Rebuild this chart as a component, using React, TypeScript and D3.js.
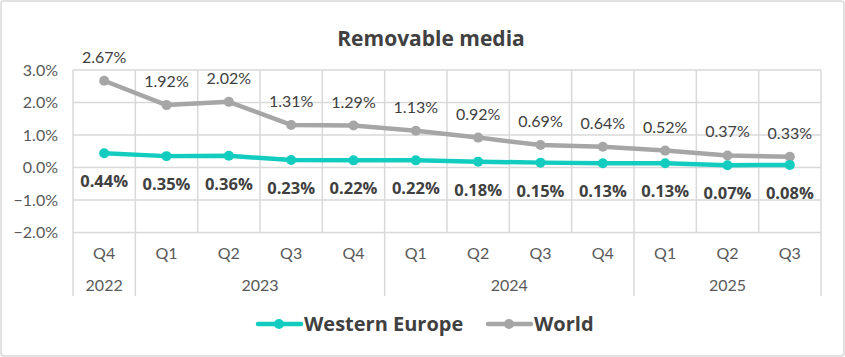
import React from "react";
import * as d3 from "d3";

const quarters = ["Q4", "Q1", "Q2", "Q3", "Q4", "Q1", "Q2", "Q3", "Q4", "Q1", "Q2", "Q3"];
const yearLabels = ["2022", "2023", "2024", "2025"];
const yearCounts = [1, 4, 4, 3];
const westernEurope = [0.44, 0.35, 0.36, 0.23, 0.22, 0.22, 0.18, 0.15, 0.13, 0.13, 0.07, 0.08];
const world = [2.67, 1.92, 2.02, 1.31, 1.29, 1.13, 0.92, 0.69, 0.64, 0.52, 0.37, 0.33];
const yTicks = [-2, -1, 0, 1, 2, 3];
const seriesNames = ["Western Europe", "World"];

const W = 845;
const H = 357;
const TEAL = "#12CDBF";
const GRAY = "#A6A6A6";
const TEXT = "#404040";
const AXIS = "#595959";
const GRID = "#D9D9D9";
const FONT = "Lato, 'Open Sans', sans-serif";
const BOLD = "'Open Sans', 'DejaVu Sans', sans-serif";

export default function App() {
  const left = 73;
  const right = 821;
  const top = 70;
  const bottom = 232.5;
  const idx = quarters.map((_, i) => i);
  const x = d3.scaleBand<number>().domain(idx).range([left, right]);
  const bw = x.bandwidth();
  const cx = (i: number) => (x(i) as number) + bw / 2;
  const y = d3.scaleLinear().domain([-2, 3]).range([bottom, top]);
  const line = d3
    .line<number>()
    .x((_, i) => cx(i))
    .y((d) => y(d));

  const bounds: number[] = [0];
  yearCounts.forEach((c) => bounds.push(bounds[bounds.length - 1] + c));

  const pct1 = (v: number) => d3.format(".1f")(v) + "%";
  const pct2 = (v: number) => d3.format(".2f")(v) + "%";

  return (
    <div style={{ position: "absolute", left: 0, top: 0 }}>
      <svg width={W} height={H} style={{ display: "block", fontFamily: FONT }}>
        <rect x={0} y={0} width={W} height={H} fill="#fff" />
        <rect x={1} y={1} width={W - 2} height={H - 2} rx={3} fill="#fff" stroke={GRID} strokeWidth={1.5} />
        <text x={431} y={46} textAnchor="middle" fontSize={21} fontWeight={700} fill={TEXT} fontFamily={BOLD}>
          Removable media
        </text>
        {yTicks.map((t) => (
          <g key={t}>
            <line x1={left} x2={right} y1={y(t)} y2={y(t)} stroke={GRID} strokeWidth={1.5} />
            <text x={58} y={y(t)} dy="0.35em" textAnchor="end" fontSize={16} fill={AXIS}>
              {pct1(t)}
            </text>
          </g>
        ))}
        {d3.range(quarters.length + 1).map((i) => {
          const xx = i < quarters.length ? (x(i) as number) : right;
          const isBound = bounds.includes(i);
          return (
            <line key={i} x1={xx} x2={xx} y1={top} y2={isBound ? 296 : bottom} stroke={GRID} strokeWidth={1.5} />
          );
        })}
        {quarters.map((q, i) => (
          <text key={i} x={cx(i)} y={253} dy="0.35em" textAnchor="middle" fontSize={16} fill={AXIS}>
            {q}
          </text>
        ))}
        {yearLabels.map((yl, k) => {
          const x0 = x(bounds[k]) as number;
          const x1 = bounds[k + 1] < quarters.length ? (x(bounds[k + 1]) as number) : right;
          return (
            <text key={yl} x={(x0 + x1) / 2} y={285} dy="0.35em" textAnchor="middle" fontSize={16} fill={AXIS}>
              {yl}
            </text>
          );
        })}
        <path d={line(world) || ""} fill="none" stroke={GRAY} strokeWidth={4.5} strokeLinejoin="round" />
        <path d={line(westernEurope) || ""} fill="none" stroke={TEAL} strokeWidth={4.5} strokeLinejoin="round" />
        {world.map((v, i) => (
          <circle key={"w" + i} cx={cx(i)} cy={y(v)} r={5} fill={GRAY} />
        ))}
        {westernEurope.map((v, i) => (
          <circle key={"e" + i} cx={cx(i)} cy={y(v)} r={5} fill={TEAL} />
        ))}
        {world.map((v, i) => (
          <text key={"wl" + i} x={cx(i)} y={y(v) - 18} textAnchor="middle" fontSize={16} fill={TEXT}>
            {pct2(v)}
          </text>
        ))}
        {westernEurope.map((v, i) => (
          <text key={"el" + i} x={cx(i)} y={y(v) + 34} textAnchor="middle" fontSize={16.5} fontWeight={700} fill={TEXT} fontFamily={BOLD}>
            {pct2(v)}
          </text>
        ))}
        <g fontFamily={BOLD}>
          <line x1={258} x2={301} y1={324} y2={324} stroke={TEAL} strokeWidth={4.5} strokeLinecap="round" />
          <circle cx={279} cy={324} r={5} fill={TEAL} />
          <text x={304} y={331} fontSize={20} fontWeight={700} fill={TEXT}>
            {seriesNames[0]}
          </text>
          <line x1={488} x2={531} y1={324} y2={324} stroke={GRAY} strokeWidth={4.5} strokeLinecap="round" />
          <circle cx={509} cy={324} r={5} fill={GRAY} />
          <text x={534} y={331} fontSize={20} fontWeight={700} fill={TEXT}>
            {seriesNames[1]}
          </text>
        </g>
      </svg>
    </div>
  );
}
